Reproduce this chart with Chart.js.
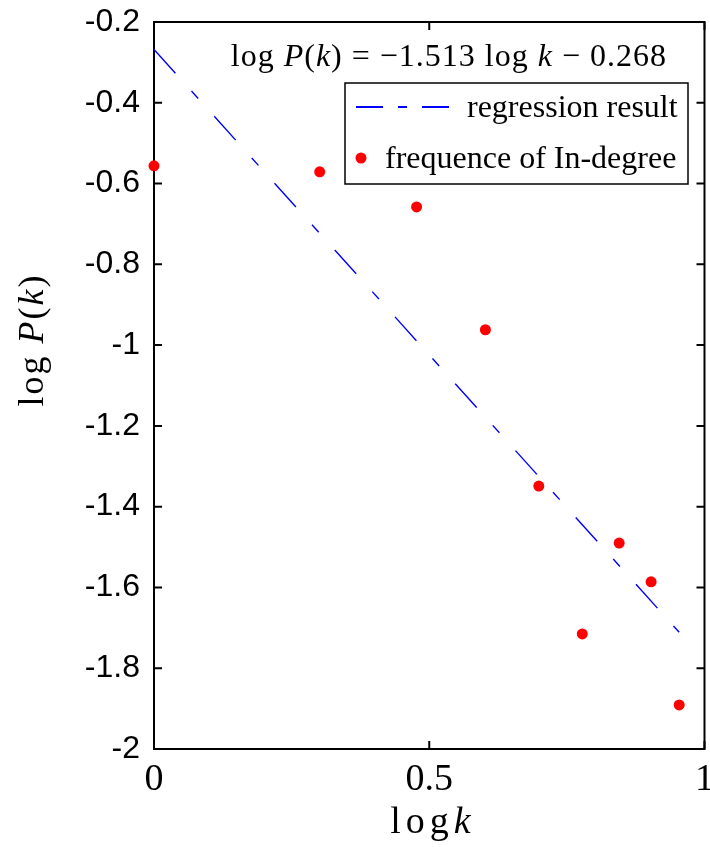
<!DOCTYPE html>
<html>
<head>
<meta charset="utf-8">
<script src="https://cdn.jsdelivr.net/npm/chart.js@4"></script>
<style>
  html, body { margin: 0; padding: 0; background: #fff; }
</style>
</head>
<body>
<canvas id="myChart" width="710" height="847"></canvas>
<script>
// data
const logK = [0, 0.301, 0.477, 0.602, 0.699, 0.778, 0.845, 0.903, 0.954];
const logPk = [-0.556, -0.571, -0.658, -0.962, -1.349, -1.715, -1.490, -1.586, -1.891];
const fitX = [0, 0.954];
const fitY = [-0.268, -1.711];
const xTicks = [0, 0.5, 1];
const yTicks = [-2, -1.8, -1.6, -1.4, -1.2, -1, -0.8, -0.6, -0.4, -0.2];
const seriesNames = ['regression result', 'frequence of In-degree'];

const SERIF = '"Liberation Serif", "Times New Roman", serif';
const SANS = '"Liberation Sans", Arial, sans-serif';

// draw a line of text made of plain / italic pieces
function drawRuns(ctx, runs, x, y, size, align, spacing) {
  ctx.letterSpacing = (spacing || 0) + 'px';
  let w = 0;
  runs.forEach(r => {
    ctx.font = (r[1] ? 'italic ' : '') + size + 'px ' + SERIF;
    w += ctx.measureText(r[0]).width;
  });
  let cx = align === 'right' ? x - w : align === 'center' ? x - w / 2 : x;
  ctx.textAlign = 'left';
  ctx.textBaseline = 'alphabetic';
  runs.forEach(r => {
    ctx.font = (r[1] ? 'italic ' : '') + size + 'px ' + SERIF;
    ctx.fillText(r[0], cx, y);
    cx += ctx.measureText(r[0]).width;
  });
  ctx.letterSpacing = '0px';
}

const frame = {
  id: 'frame',
  beforeDatasetsDraw(chart) {
    const { ctx, chartArea: a, scales: { x, y } } = chart;
    ctx.save();
    ctx.strokeStyle = '#000';
    ctx.lineWidth = 2;
    ctx.strokeRect(a.left, a.top, a.right - a.left, a.bottom - a.top);
    ctx.beginPath();
    x.ticks.forEach(t => {
      const px = x.getPixelForValue(t.value);
      ctx.moveTo(px, a.bottom); ctx.lineTo(px, a.bottom - 8);
      ctx.moveTo(px, a.top); ctx.lineTo(px, a.top + 8);
    });
    y.ticks.forEach(t => {
      const py = y.getPixelForValue(t.value);
      ctx.moveTo(a.left, py); ctx.lineTo(a.left + 8, py);
      ctx.moveTo(a.right, py); ctx.lineTo(a.right - 8, py);
    });
    ctx.stroke();
    ctx.restore();
  },
  afterDraw(chart) {
    const ctx = chart.ctx;
    const ds = chart.data.datasets;
    ctx.save();
    ctx.fillStyle = '#000';

    // axis titles
    drawRuns(ctx, [['log', false], ['k', true]], 433, 833, 38, 'center', 5);
    ctx.save();
    ctx.translate(43, 340);
    ctx.rotate(-Math.PI / 2);
    drawRuns(ctx, [['log ', false], ['P', true], ['(', false], ['k', true], [')', false]], 0, 0, 36, 'center', 2);
    ctx.restore();

    // equation
    drawRuns(ctx, [['log ', false], ['P', true], ['(', false], ['k', true], [') = \u22121.513 log ', false], ['k', true], [' \u2212 0.268', false]], 667, 66, 32, 'right', 1);

    // legend box
    ctx.fillStyle = '#fff';
    ctx.fillRect(345, 83, 343, 101);
    ctx.strokeStyle = '#000';
    ctx.lineWidth = 1.5;
    ctx.strokeRect(345, 83, 343, 101);

    ctx.strokeStyle = ds[0].borderColor;
    ctx.lineWidth = 2;
    ctx.setLineDash([27, 15, 9, 15]);
    ctx.beginPath();
    ctx.moveTo(356, 107); ctx.lineTo(457, 107);
    ctx.stroke();
    ctx.setLineDash([]);

    ctx.fillStyle = ds[1].backgroundColor;
    ctx.beginPath();
    ctx.arc(361, 158, ds[1].pointRadius, 0, Math.PI * 2);
    ctx.fill();

    ctx.fillStyle = '#000';
    drawRuns(ctx, [[ds[0].label, false]], 467, 117, 32, 'left', 0);
    drawRuns(ctx, [[ds[1].label, false]], 385, 168, 32, 'left', 0);
    ctx.restore();
  }
};

new Chart(document.getElementById('myChart'), {
  type: 'scatter',
  data: {
    datasets: [{
      label: seriesNames[0],
      data: fitX.map((v, i) => ({ x: v, y: fitY[i] })),
      showLine: true,
      borderColor: '#0000ff',
      borderWidth: 1.4,
      borderDash: [32, 24, 10, 24],
      pointRadius: 0,
      fill: false
    }, {
      label: seriesNames[1],
      data: logK.map((v, i) => ({ x: v, y: logPk[i] })),
      backgroundColor: '#ff0000',
      borderWidth: 0,
      pointRadius: 5.5,
      clip: false
    }]
  },
  options: {
    responsive: false,
    animation: false,
    devicePixelRatio: 1,
    layout: { padding: { top: 22, right: 4, left: 0, bottom: 0 } },
    plugins: { legend: { display: false }, tooltip: { enabled: false } },
    scales: {
      x: {
        type: 'linear',
        min: 0,
        max: 1,
        afterBuildTicks: s => { s.ticks = xTicks.map(v => ({ value: v })); },
        afterFit: s => { s.height = 98; s.paddingLeft = 0; s.paddingRight = 0; },
        grid: { display: false, drawTicks: false },
        border: { display: false },
        ticks: {
          padding: 8,
          color: '#000',
          font: { family: SERIF, size: 38 },
          maxRotation: 0,
          callback: v => String(+v.toFixed(1))
        }
      },
      y: {
        type: 'linear',
        min: -2,
        max: -0.2,
        afterBuildTicks: s => { s.ticks = yTicks.map(v => ({ value: v })); },
        afterFit: s => { s.width = 154; s.paddingTop = 0; s.paddingBottom = 0; },
        grid: { display: false, drawTicks: false },
        border: { display: false },
        ticks: {
          padding: 14,
          color: '#000',
          font: { family: SANS, size: 32 },
          callback: v => String(+v.toFixed(1))
        }
      }
    }
  },
  plugins: [frame]
});
</script>
</body>
</html>
